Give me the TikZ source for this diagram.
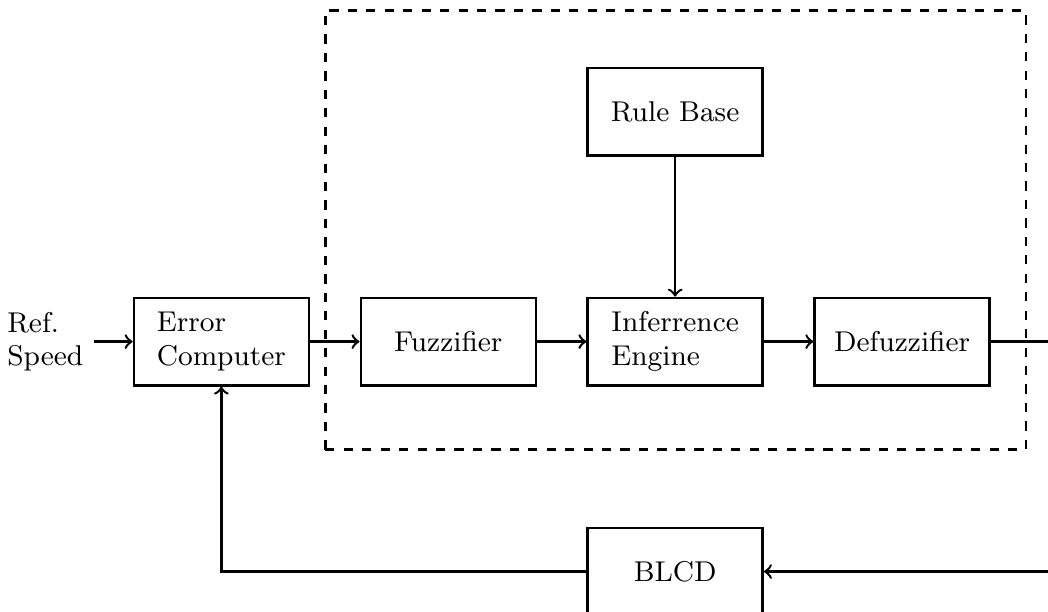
\documentclass[tikz,border=0pt]{standalone}
\usetikzlibrary{positioning,calc}
\begin{document}
\begin{tikzpicture}[x=1cm,y=1cm,
    font=\fontsize{9.3}{11}\selectfont,
    block/.style={draw,thick,minimum width=2cm,minimum height=1cm,inner sep=2pt,align=left},
    wire/.style={thick},
    dashbox/.style={thick,dashed}]
    \clip (0,0) rectangle (11.977,6.994);
    %
    \node[block] (errc) at (2.53,3.09) {Error\\Computer};
    \node[align=left,left=0.44cm of errc] (ref) {Ref.\\Speed};
    \node[block,right=0.565cm of errc] (fuzz) {Fuzzifier};
    \node[block,right=0.565cm of fuzz] (infer) {Inferrence\\Engine};
    \node[block,right=0.565cm of infer] (defuzz) {Defuzzifier};
    \node[block,above=1.6cm of infer] (rule) {Rule Base};
    \node[block,below=1.6cm of infer] (blcd) {BLCD};
    %
    \draw[dashbox] ($(fuzz.south west)+(-0.39,-0.72)$) rectangle ($(defuzz.east |- rule.north)+(0.4,0.64)$);
    %
    \coordinate (out) at ($(defuzz.east)+(1.0,0)$);
    \coordinate (back) at (out |- blcd);
    %
    \draw[wire,->] (ref) -- (errc);
    \draw[wire,->] (errc) -- (fuzz);
    \draw[wire,->] (fuzz) -- (infer);
    \draw[wire,->] (infer) -- (defuzz);
    \draw[wire,->] (rule) -- (infer);
    \draw[wire] (defuzz) -- (out);
    \draw[wire,->] (back) -- (blcd);
    \draw[wire,->] (blcd.west) -| (errc.south);
    %
\end{tikzpicture}
\end{document}
